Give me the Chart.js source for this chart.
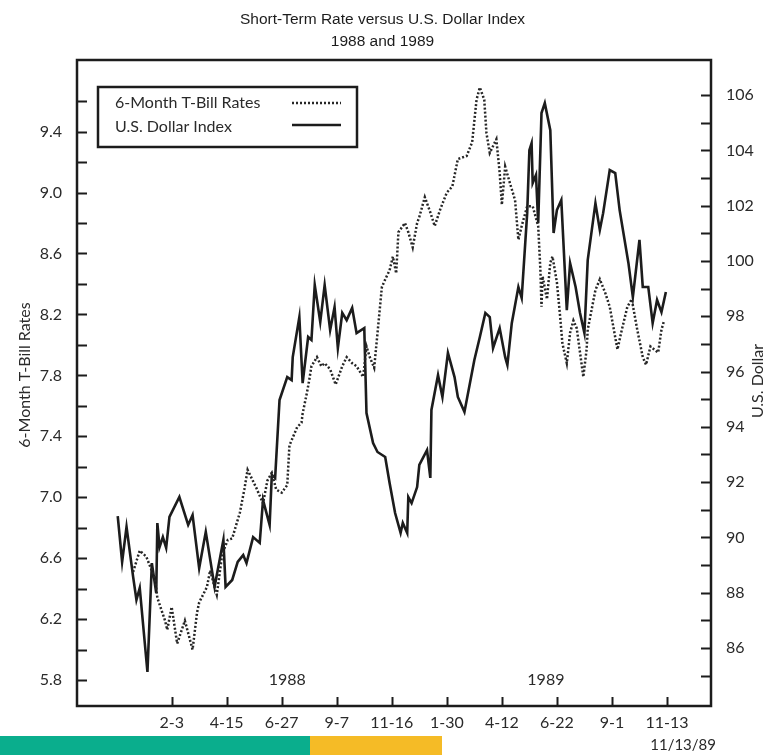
<!DOCTYPE html>
<html><head><meta charset="utf-8">
<script src="https://cdn.jsdelivr.net/npm/chart.js@4.4.1/dist/chart.umd.min.js"></script>
<style>html,body{margin:0;padding:0;background:#fff;}canvas{display:block;}</style>
</head><body>
<canvas id="c" width="765" height="755"></canvas>
<script>
// x = trading days counted from 2-3-88
const dateTicks = [0, 50, 100, 150, 200, 250, 300, 350, 400, 450];
const dateLabels = ['2-3', '4-15', '6-27', '9-7', '11-16', '1-30', '4-12', '6-22', '9-1', '11-13'];
const yearLabels = ['1988', '1989'];
const yearDays = [105, 340];
const rateTicks = [5.8, 6.0, 6.2, 6.4, 6.6, 6.8, 7.0, 7.2, 7.4, 7.6, 7.8, 8.0, 8.2, 8.4, 8.6, 8.8, 9.0, 9.2, 9.4, 9.6];
const rateLabels = ['5.8', '', '6.2', '', '6.6', '', '7.0', '', '7.4', '', '7.8', '', '8.2', '', '8.6', '', '9.0', '', '9.4', ''];
const dollarTicks = [85, 86, 87, 88, 89, 90, 91, 92, 93, 94, 95, 96, 97, 98, 99, 100, 101, 102, 103, 104, 105, 106];
const dollarLabels = ['', '86', '', '88', '', '90', '', '92', '', '94', '', '96', '', '98', '', '100', '', '102', '', '104', '', '106'];

const billDays = [-35,-29,-23,-15,-13,-6,-4,0,5,12,19,23,25,32,35,39,41,46,51,55,62,66,69,77,83,87,91,95,100,105,107,114,118,119,123,125,127,132,136,139,144,149,155,159,164,168,174,177,180,184,191,194,198,201,204,206,212,215,219,223,225,230,235,239,244,250,255,260,268,273,277,280,284,286,289,295,298,300,303,307,312,315,318,323,328,333,335,336,337,341,344,346,350,353,355,359,362,365,368,374,377,378,385,389,394,398,405,409,414,418,423,428,431,435,442,445,447];
const billRates = [6.51,6.65,6.61,6.46,6.34,6.19,6.13,6.28,6.04,6.19,6.00,6.24,6.31,6.41,6.52,6.41,6.36,6.63,6.72,6.73,6.90,7.05,7.18,7.06,6.96,7.11,7.16,7.05,7.03,7.08,7.34,7.46,7.49,7.55,7.69,7.77,7.86,7.92,7.86,7.88,7.84,7.74,7.86,7.92,7.88,7.86,7.79,7.99,7.92,7.85,8.38,8.43,8.49,8.58,8.47,8.74,8.80,8.74,8.64,8.80,8.84,8.97,8.87,8.78,8.89,9.00,9.04,9.22,9.24,9.33,9.61,9.69,9.61,9.39,9.26,9.35,9.13,8.92,9.17,9.07,8.95,8.69,8.78,8.91,8.91,8.78,8.49,8.25,8.45,8.30,8.54,8.58,8.41,8.18,8.01,7.88,8.08,8.16,8.11,7.79,7.97,8.10,8.36,8.43,8.34,8.25,7.97,8.10,8.25,8.30,8.10,7.92,7.87,7.99,7.95,8.10,8.15];

const dollarDays = [-49,-45,-41,-35,-32,-29,-22,-18,-14,-13,-11,-8,-5,-2,7,15,19,25,31,39,47,49,55,60,65,68,74,80,83,89,91,94,98,105,109,110,116,119,124,127,130,135,139,144,148,151,155,159,164,168,175,177,183,187,194,198,203,208,210,214,215,218,223,225,232,235,236,242,246,251,257,260,266,275,280,285,289,292,298,303,305,309,315,318,323,325,327,328,331,333,336,339,344,347,350,354,359,362,367,371,375,378,385,389,392,398,403,407,415,419,425,428,433,437,441,445,449];
const dollarIndex = [90.77,89.11,90.38,88.57,87.74,88.17,85.13,89.07,87.99,90.52,89.65,90.01,89.62,90.74,91.46,90.45,90.81,88.89,90.20,88.21,89.91,88.21,88.46,89.11,89.36,89.07,90.01,89.80,91.35,90.45,92.26,92.15,94.97,95.80,95.69,96.52,97.97,95.58,97.25,97.14,99.13,97.79,99.13,97.50,98.33,96.85,98.12,97.86,98.30,97.39,97.57,94.50,93.41,93.09,92.91,91.97,90.88,90.16,90.52,90.16,91.46,91.24,91.82,92.62,93.16,92.15,94.61,95.87,95.08,96.67,95.80,95.08,94.54,96.42,97.25,98.12,97.97,96.85,97.57,96.52,96.24,97.75,99.06,98.66,101.73,104.01,104.26,102.82,103.11,101.37,105.35,105.71,104.73,101.01,101.84,102.20,98.22,99.92,99.06,98.12,97.39,100.03,102.09,101.12,101.73,103.29,103.18,101.84,99.92,98.69,100.76,99.06,99.06,97.75,98.59,98.15,98.88];

const FONT = 'Lato, "Open Sans", sans-serif';
const INK = '#1c1c1c';

const decor = {
  id: 'decor',
  afterDatasetsDraw(chart) {
    const {ctx, chartArea: a, scales} = chart;
    ctx.save();
    // frame
    ctx.strokeStyle = INK;
    ctx.lineWidth = 2.5;
    ctx.strokeRect(a.left, a.top, a.right - a.left, a.bottom - a.top);
    // inward tick marks
    ctx.lineWidth = 2;
    ctx.beginPath();
    scales.y.ticks.forEach(t => { const p = Math.round(scales.y.getPixelForValue(t.value)) + 0.5; ctx.moveTo(a.left, p); ctx.lineTo(a.left + 10, p); });
    scales.y1.ticks.forEach(t => { const p = Math.round(scales.y1.getPixelForValue(t.value)) + 0.5; ctx.moveTo(a.right - 10, p); ctx.lineTo(a.right, p); });
    scales.x.ticks.forEach(t => { const p = Math.round(scales.x.getPixelForValue(t.value)) + 0.5; ctx.moveTo(p, a.bottom); ctx.lineTo(p, a.bottom - 9); });
    ctx.stroke();
    // year labels
    ctx.fillStyle = '#2a2a2a';
    ctx.font = '16px ' + FONT;
    ctx.textAlign = 'center';
    ctx.textBaseline = 'middle';
    yearLabels.forEach((s, i) => ctx.fillText(s, scales.x.getPixelForValue(yearDays[i]), scales.y.getPixelForValue(5.8)));
    // legend
    const lx = a.left + 21, ly = a.top + 27, lw = 259, lh = 60;
    ctx.fillStyle = '#fff';
    ctx.fillRect(lx, ly, lw, lh);
    ctx.strokeStyle = INK;
    ctx.lineWidth = 2.5;
    ctx.strokeRect(lx, ly, lw, lh);
    ctx.fillStyle = '#2a2a2a';
    ctx.textAlign = 'left';
    ctx.fillText(chart.data.datasets[0].label, lx + 17, ly + 16);
    ctx.fillText(chart.data.datasets[1].label, lx + 17, ly + 40);
    ctx.lineWidth = 2.5;
    ctx.strokeStyle = '#262626';
    ctx.setLineDash([2, 2]);
    ctx.beginPath(); ctx.moveTo(lx + 194, ly + 16); ctx.lineTo(lx + 243, ly + 16); ctx.stroke();
    ctx.setLineDash([]);
    ctx.lineWidth = 2.6;
    ctx.strokeStyle = INK;
    ctx.beginPath(); ctx.moveTo(lx + 194, ly + 38); ctx.lineTo(lx + 243, ly + 38); ctx.stroke();
    // axis titles
    ctx.fillStyle = '#2a2a2a';
    ctx.font = '16px ' + FONT;
    ctx.textAlign = 'center';
    ctx.save(); ctx.translate(25, 375); ctx.rotate(-Math.PI / 2); ctx.fillText('6-Month T-Bill Rates', 0, 0); ctx.restore();
    ctx.save(); ctx.translate(758, 381); ctx.rotate(-Math.PI / 2); ctx.fillText('U.S. Dollar', 0, 0); ctx.restore();
    // bottom band and date
    ctx.fillStyle = '#0aae8d';
    ctx.fillRect(0, 736, 310, 19);
    ctx.fillStyle = '#f5bb26';
    ctx.fillRect(310, 736, 132, 19);
    ctx.fillStyle = '#2a2a2a';
    ctx.font = '15px ' + FONT;
    ctx.textAlign = 'right';
    ctx.fillText('11/13/89', 716, 745);
    ctx.restore();
  }
};

const tickFont = {family: FONT, size: 16};
new Chart(document.getElementById('c'), {
  type: 'line',
  data: {
    datasets: [
      {label: '6-Month T-Bill Rates', yAxisID: 'y', data: billDays.map((d, i) => ({x: d, y: billRates[i]})),
        borderColor: '#262626', borderWidth: 2.5, borderDash: [2, 2], pointRadius: 0, tension: 0, fill: false},
      {label: 'U.S. Dollar Index', yAxisID: 'y1', data: dollarDays.map((d, i) => ({x: d, y: dollarIndex[i]})),
        borderColor: INK, borderWidth: 2.6, pointRadius: 0, tension: 0, fill: false}
    ]
  },
  options: {
    responsive: false, animation: false, devicePixelRatio: 1,
    layout: {padding: 0},
    plugins: {
      legend: {display: false}, tooltip: {enabled: false},
      title: {display: true, text: ['Short-Term Rate versus U.S. Dollar Index', '1988 and 1989'],
        color: INK, font: {family: '"Liberation Sans", Arial, sans-serif', size: 15.5, weight: 'normal', lineHeight: '22px'},
        padding: {top: 9, bottom: 7}}
    },
    scales: {
      x: {type: 'linear', min: -86, max: 490,
        afterBuildTicks: s => { s.ticks = dateTicks.map(v => ({value: v})); },
        afterFit: s => { s.height = 49; },
        ticks: {autoSkip: false, maxRotation: 0, padding: -1, color: '#2a2a2a', font: tickFont, callback: (v, i) => dateLabels[i]},
        grid: {display: false}, border: {display: false}},
      y: {type: 'linear', position: 'left', min: 5.63, max: 9.87,
        afterBuildTicks: s => { s.ticks = rateTicks.map(v => ({value: v})); },
        afterFit: s => { s.width = 77; },
        ticks: {autoSkip: false, padding: 7, color: '#2a2a2a', font: tickFont, callback: (v, i) => rateLabels[i]},
        grid: {display: false}, border: {display: false}},
      y1: {type: 'linear', position: 'right', min: 83.9, max: 107.27,
        afterBuildTicks: s => { s.ticks = dollarTicks.map(v => ({value: v})); },
        afterFit: s => { s.width = 54; },
        ticks: {autoSkip: false, padding: 7, color: '#2a2a2a', font: tickFont, callback: (v, i) => dollarLabels[i]},
        grid: {display: false}, border: {display: false}}
    }
  },
  plugins: [decor]
});
</script>
</body></html>
